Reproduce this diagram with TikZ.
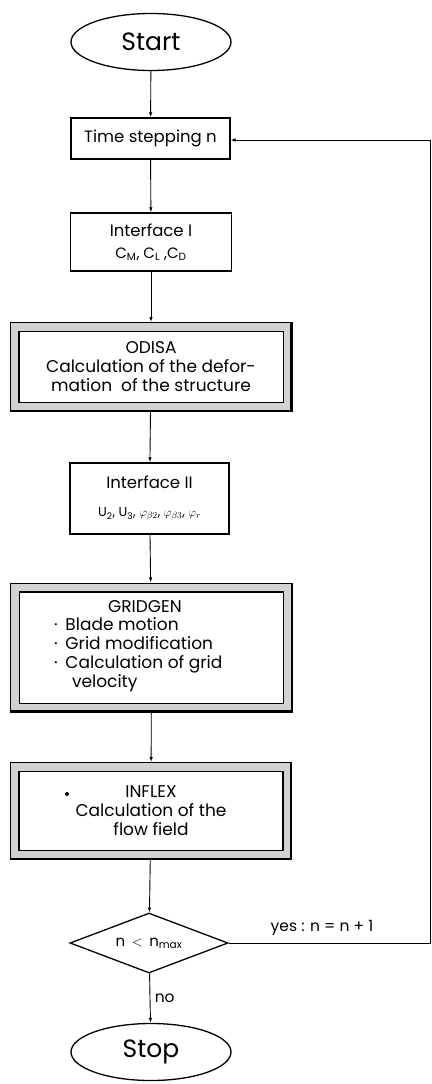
\documentclass[tikz,border=0pt]{standalone}
\usepackage{fontspec}
\setmainfont{Poppins}
\usetikzlibrary{shapes.geometric,arrows.meta}
\newcommand{\fs}[2]{\fontsize{#1}{#2}\selectfont}
\newcommand{\bul}{·\hspace{0.45em}}
\begin{document}
\begin{tikzpicture}[x=1pt,y=-1pt,
  arr/.style={-{Latex[length=5pt,width=3.5pt]}, line width=0.9pt},
  term/.style={draw, ellipse, line width=1.3pt, minimum width=160pt, minimum height=57pt, inner sep=0pt, font=\fs{25}{30}},
  plainbox/.style={draw, rectangle, line width=1.3pt, inner sep=0pt, align=center, font=\fs{16.5}{22}},
  dblbox/.style={draw, rectangle, line width=1.3pt, double=gray!35, double distance=7.4pt, outer sep=5pt, inner sep=0pt, align=center, font=\fs{17}{19}},
  txt/.style={inner sep=0pt, font=\fs{17}{19}},
  lab/.style={font=\fs{15.5}{18}},
  shadowline/.style={line width=2.2pt},
  cond/.style={draw, diamond, aspect=2.63, line width=1.3pt, inner sep=0pt, minimum width=158pt, minimum height=60pt, font=\fs{15}{16}}
]
\useasboundingbox (0,0) rectangle (431,1084);

\node[term] (start) at (151,42) {Start};
\node[plainbox, minimum width=159pt, minimum height=41pt] (time) at (150.5,138.5) {Time stepping n};
\node[plainbox, minimum width=161pt, minimum height=58pt] (if1) at (151,242) {Interface I\\{\fs{15}{16}C\textsubscript{M}, C\textsubscript{L} ,C\textsubscript{D}}};
\node[dblbox, minimum width=273pt, minimum height=80pt] (odisa) at (151,367) {ODISA\\Calculation of the defor-\\mation\ \ of the structure};
\node[plainbox, minimum width=159pt, minimum height=71pt] (if2) at (149.5,498.5) {Interface II\\[6pt]{\fs{13}{14}U\textsubscript{2}, U\textsubscript{3}, $\varphi_{\beta2}$, $\varphi_{\beta3}$, $\varphi_r$}};
\node[dblbox, minimum width=273pt, minimum height=120pt] (grid) at (151.5,647.5) {};
\node[txt] (gridtitle) at (145,607) {GRIDGEN};
\node[txt, anchor=west] (gridlist) at (54,655) {\begin{tabular}{@{}l@{}}\bul Blade motion\\\bul Grid modification\\\bul Calculation of grid\\\hspace*{1.05em}velocity\end{tabular}};
\node[dblbox, minimum width=272.5pt, minimum height=88pt] (inflex) at (151,811) {INFLEX\\Calculation of the\\flow field};
\node[circle, fill, inner sep=0pt, minimum size=4pt] (dot) at (67,794) {};
\node[cond] (cond) at (149,943) {n\, $<$\, n\textsubscript{max}};
\node[term] (stop) at (151,1052) {Stop};
\coordinate (rt) at (430,140);

\foreach \b in {odisa,grid,inflex}{
  \draw[shadowline] ([shift={(-1.1,1.1)}]\b.north east) -- ([shift={(-1.1,-1.1)}]\b.south east) -- ([shift={(1.1,-1.1)}]\b.south west);
}

\draw[arr] (start) -- (time);
\draw[arr] (time) -- (if1);
\draw[arr] (if1) -- (odisa);
\draw[arr] (odisa) -- (if2);
\draw[arr] (if2) -- (grid);
\draw[arr] (grid) -- (inflex);
\draw[arr] (inflex) -- (cond);
\draw[arr] (cond) -- node[right, lab, xshift=1pt] (nolab) {no} (stop);
\draw[arr, line width=0.8pt] (cond.east) -| (rt) -- (rt -| time.east);
\node[lab] (yeslab) at (322,928) {yes : n = n + 1};
\end{tikzpicture}
\end{document}
